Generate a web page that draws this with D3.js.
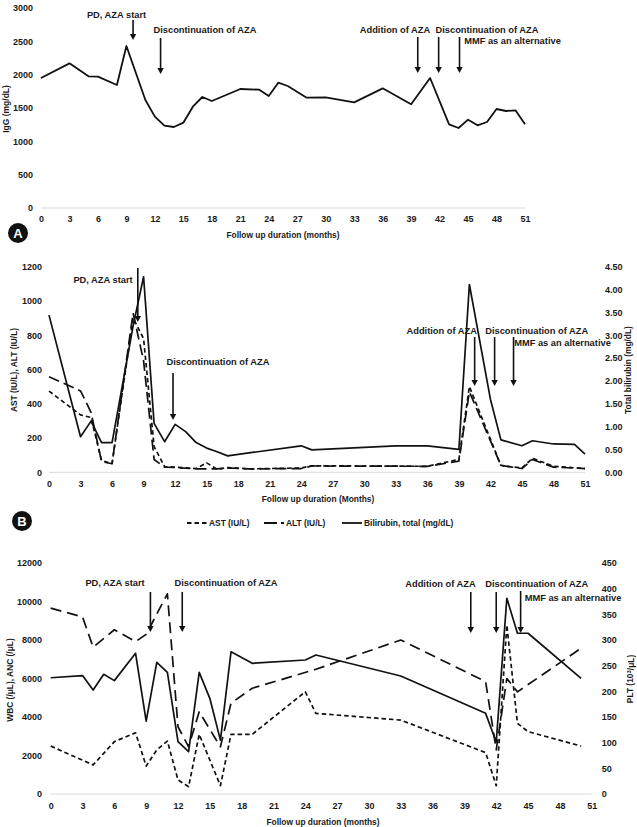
<!DOCTYPE html>
<html><head><meta charset="utf-8">
<script src="https://cdn.jsdelivr.net/npm/d3@7"></script>
<style>
body{margin:0;background:#fff}
text{font-family:"Liberation Sans",Arial,sans-serif;font-weight:bold;fill:#1a1a1a}
</style>
</head><body>
<svg id="chart" width="637" height="827"></svg>
<script>
// ---------- DATA ----------
const monthTicks = d3.range(0, 52, 3);

// Panel A: IgG
const iggMonths = [0,3,5,6,8,9,11,12,13,14,15,16,17,18,21,23,24,25,26,28,30,33,36,39,41,43,44,45,46,47,48,49,50,51];
const iggValues = [1950,2170,1975,1970,1845,2430,1620,1370,1235,1215,1280,1520,1665,1605,1785,1775,1680,1880,1830,1655,1660,1585,1795,1555,1950,1255,1200,1325,1240,1290,1485,1455,1465,1255];
const iggTicks = [0,500,1000,1500,2000,2500,3000];

// Panel B: liver tests
const astMonths = [0,3,4,5,6,8,9,10,11,12,14,15,16,17,19,24,25,36,39,40,43,45,46,48,51];
const astValues = [474,335,320,68,52,900,780,150,33,30,22,55,18,28,20,25,38,35,75,500,40,25,82,35,22];
const altMonths = [0,3,4,5,6,8,9,10,11,12,14,16,17,19,24,25,36,39,40,43,45,46,48,51];
const altValues = [558,475,350,62,50,930,650,75,30,28,20,20,25,20,22,37,35,65,470,40,22,75,30,22];
const biliMonths = [0,3,4,5,6,8,9,10,11,12,13,14,15,16,17,24,25,33,36,39,40,42,43,45,46,48,50,51];
const biliValues = [3.44,0.78,1.12,0.65,0.65,3.2,4.28,1.07,0.67,1.05,0.89,0.65,0.53,0.45,0.36,0.58,0.49,0.58,0.58,0.50,4.11,1.6,0.71,0.58,0.69,0.62,0.61,0.40];
const liverTicks = [0,200,400,600,800,1000,1200];
const biliTicks = [0,0.5,1,1.5,2,2.5,3,3.5,4,4.5];

// Panel C: blood counts
const wbcMonths = [0,3,4,5,6,8,9,10,11,12,13,14,15,16,17,19,24,25,33,41,42,43,44,45,50];
const wbcValues = [6040,6150,5400,6220,5890,7310,3790,6840,6320,2720,2200,6320,4970,2800,7390,6790,6960,7220,6130,4190,2700,10170,8350,8350,6010];
const ancMonths = [0,4,6,8,9,10,11,12,13,14,16,17,19,24,25,33,41,42,43,44,45,50];
const ancValues = [2490,1510,2720,3180,1450,2290,2750,730,380,3100,430,3100,3100,5310,4190,3840,2150,430,8780,3670,3240,2490];
const pltMonths = [0,3,4,6,8,9,11,12,13,14,16,17,19,25,33,41,42,43,44,50];
const pltValues = [362,345,286,320,297,311,390,131,92,160,92,177,206,243,300,219,86,225,199,284];
const countTicks = [0,2000,4000,6000,8000,10000,12000];
const pltTicks = [0,50,100,150,200,250,300,350,400,450];

// Event annotations (month of arrow)
const eventLabels = ["PD, AZA start","Discontinuation of AZA","Addition of AZA","Discontinuation of AZA","MMF as an alternative"];
const eventMonthsA = [9.7,12.6,39.7,41.9,44.1];
const eventMonthsB = [8.45,11.8,40.5,42.4,44.2];
const eventMonthsC = [9.4,12.4,39.6,42.0,44.3];

// ---------- DRAW ----------
const svg = d3.select("#chart");
const zip = (a,b) => a.map((m,i)=>[m,b[i]]);

function xAxis(g, x, y0, pad){
  g.append("line").attr("x1", x.range()[0]).attr("x2", x.range()[1])
    .attr("y1", y0).attr("y2", y0).attr("stroke", "#d9d9d9").attr("stroke-width", 1);
  const ax = g.append("g").attr("transform", `translate(0,${y0})`)
    .call(d3.axisBottom(x).tickValues(monthTicks).tickSize(0).tickPadding(pad));
  ax.select(".domain").remove();
  ax.selectAll("text").attr("font-size", 9).style("font-family", null);
}
function yAxisLeft(g, y, x0, ticks, fmt, pad){
  const ax = g.append("g").attr("transform", `translate(${x0},0)`)
    .call(d3.axisLeft(y).tickValues(ticks).tickFormat(fmt).tickSize(0).tickPadding(pad));
  ax.select(".domain").remove();
  ax.selectAll("text").attr("font-size", 9).style("font-family", null);
}
function yAxisRight(g, y, x0, ticks, fmt, pad){
  const ax = g.append("g").attr("transform", `translate(${x0},0)`)
    .call(d3.axisRight(y).tickValues(ticks).tickFormat(fmt).tickSize(0).tickPadding(pad));
  ax.select(".domain").remove();
  ax.selectAll("text").attr("font-size", 9).style("font-family", null);
}
function series(g, x, y, pts, dash, w){
  g.append("path").datum(pts)
    .attr("d", d3.line().x(d=>x(d[0])).y(d=>y(d[1])))
    .attr("fill","none").attr("stroke","#111").attr("stroke-width", w||1.7)
    .attr("stroke-linejoin","round")
    .attr("stroke-dasharray", dash || null);
}
function arrow(g, xp, y1, y2){
  g.append("line").attr("x1",xp).attr("x2",xp).attr("y1",y1).attr("y2",y2-5)
    .attr("stroke","#111").attr("stroke-width",1.6);
  g.append("path").attr("d",`M${xp-3.2},${y2-6}L${xp+3.2},${y2-6}L${xp},${y2}Z`).attr("fill","#111");
}
function label(g, txt, cx, cy, size, anchor, rot){
  const t = g.append("text").text(txt).attr("font-size", size)
    .attr("text-anchor", anchor||"middle").attr("dy","0.35em");
  if (rot) t.attr("transform", `translate(${cx},${cy}) rotate(${rot})`);
  else t.attr("x", cx).attr("y", cy);
  return t;
}
function badge(g, letter, cx, cy){
  g.append("circle").attr("cx",cx).attr("cy",cy).attr("r",10).attr("fill","#111");
  g.append("text").text(letter).attr("x",cx).attr("y",cy).attr("dy","0.36em")
    .attr("text-anchor","middle").attr("font-size",13).style("fill","#fff");
}

// ===== Panel A =====
{
  const g = svg.append("g");
  const x = d3.scaleLinear().domain([0,51]).range([41,525]);
  const y = d3.scaleLinear().domain([0,3000]).range([208,8]);
  xAxis(g, x, 208, 8);
  yAxisLeft(g, y, 41, iggTicks, d3.format("d"), 8);
  series(g, x, y, zip(iggMonths, iggValues), null, 1.8);
  label(g, "IgG (mg/dL)", 6, 109, 8.5, "middle", -90);
  label(g, "Follow up duration (months)", 283, 235, 8.4);
  badge(g, "A", 18, 233);
  const txt = [[116.5,15],[205,30],[395,30],[487,30],[512.5,41]];
  eventLabels.forEach((s,i)=>label(g, s, txt[i][0], txt[i][1], 9.3));
  const ys = [[20,40],[38,74],[37,73],[37,73],[37,73]];
  eventMonthsA.forEach((m,i)=>arrow(g, x(m), ys[i][0], ys[i][1]));
}

// ===== Panel B =====
{
  const g = svg.append("g");
  const x = d3.scaleLinear().domain([0,51]).range([49,585]);
  const y = d3.scaleLinear().domain([0,1200]).range([472.3,266.7]);
  const y2 = d3.scaleLinear().domain([0,4.5]).range([472.3,266.7]);
  xAxis(g, x, 472.3, 8);
  yAxisLeft(g, y, 49, liverTicks, d3.format("d"), 7);
  yAxisRight(g, y2, 585, biliTicks, d3.format(".2f"), 20);
  series(g, x, y, zip(astMonths, astValues), "4.5,3", 1.7);
  series(g, x, y, zip(altMonths, altValues), "11,5", 1.7);
  series(g, x, y2, zip(biliMonths, biliValues), null, 1.7);
  label(g, "AST (IU/L), ALT (IU/L)", 14, 370, 8.4, "middle", -90);
  label(g, "Total bilirubin (mg/dL)", 628, 370, 8.4, "middle", -90);
  label(g, "Follow up duration (Months)", 318, 499, 8.4);
  badge(g, "B", 22, 521);
  const txt = [[103,280],[218,362],[441.7,331],[536.7,331],[562.5,343]];
  eventLabels.forEach((s,i)=>label(g, s, txt[i][0], txt[i][1], 9.3));
  const ys = [[268,322],[373,420],[337,386],[337,386],[337,386]];
  eventMonthsB.forEach((m,i)=>arrow(g, x(m), ys[i][0], ys[i][1]));
  // legend
  const ly = 523;
  const legend = [
    {name:"AST (IU/L)", dash:"4.5,3", x1:187, x2:207},
    {name:"ALT (IU/L)", dash:"13,4", x1:264, x2:284},
    {name:"Bilirubin, total (mg/dL)", dash:null, x1:342, x2:362}
  ];
  legend.forEach(d=>{
    g.append("line").attr("x1",d.x1).attr("x2",d.x2).attr("y1",ly).attr("y2",ly)
      .attr("stroke","#111").attr("stroke-width",1.8).attr("stroke-dasharray", d.dash);
    label(g, d.name, d.x2+2, ly, 8.4, "start");
  });
}

// ===== Panel C =====
{
  const g = svg.append("g");
  const x = d3.scaleLinear().domain([0,51]).range([50.7,591.7]);
  const y = d3.scaleLinear().domain([0,12000]).range([794,563]);
  const y2 = d3.scaleLinear().domain([0,450]).range([794,563]);
  xAxis(g, x, 794, 8.5);
  yAxisLeft(g, y, 50.7, countTicks, d3.format("d"), 8.7);
  yAxisRight(g, y2, 591.7, pltTicks, d3.format("d"), 10);
  series(g, x, y, zip(wbcMonths, wbcValues), null, 1.7);
  series(g, x, y, zip(ancMonths, ancValues), "4.5,3", 1.7);
  series(g, x, y2, zip(pltMonths, pltValues), "11,6", 1.7);
  label(g, "WBC (/μL), ANC (/μL)", 10, 680, 8.4, "middle", -90);
  const pl = label(g, "", 630, 679, 8.4, "middle", -90);
  pl.text(null);
  pl.append("tspan").text("PLT (10");
  pl.append("tspan").text("3").attr("font-size",6).attr("dy","-0.3em");
  pl.append("tspan").text("/μL)").attr("dy","0.3em");
  label(g, "Follow up duration (months)", 323, 822, 8.4);
  const txt = [[115,583],[226,583],[440.5,584],[536.7,584],[573,598]];
  eventLabels.forEach((s,i)=>label(g, s, txt[i][0], txt[i][1], 9.3));
  const ys = [[592,632],[592,632],[592,633],[592,633],[591,633]];
  eventMonthsC.forEach((m,i)=>arrow(g, x(m), ys[i][0], ys[i][1]));
}
</script>
</body></html>
